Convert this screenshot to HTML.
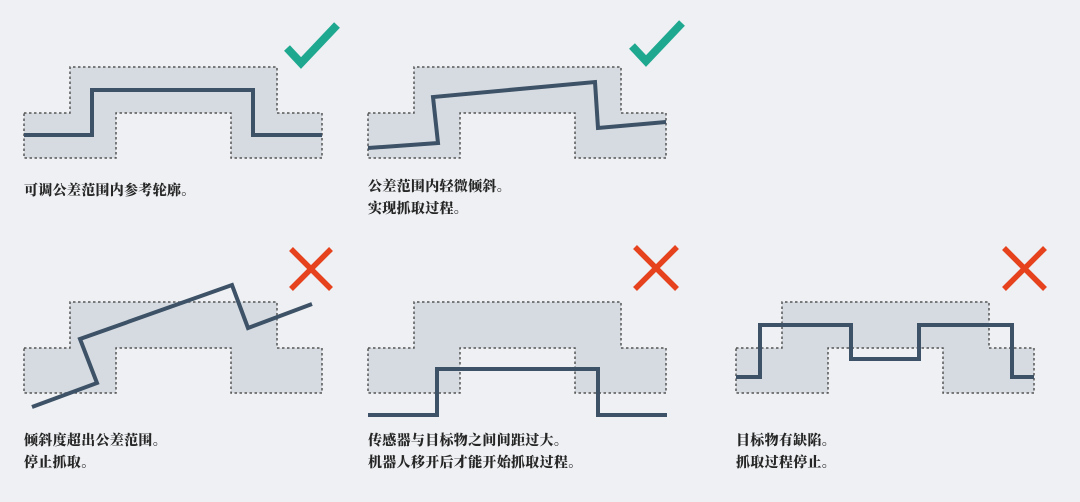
<!DOCTYPE html>
<html><head><meta charset="utf-8"><style>
body{margin:0;background:#eef0f3;width:1080px;height:502px;overflow:hidden;position:relative;font-family:"Liberation Serif","Noto Serif CJK SC",serif;}
.t{position:absolute;font-size:14px;font-weight:900;color:#262626;line-height:22px;letter-spacing:0.3px}
svg{position:absolute;left:0;top:0}
</style></head><body>
<svg width="1080" height="502">
<defs>
<g id="band">
<polygon points="0,46 46,46 46,0 253,0 253,46 298,46 298,91 207,91 207,46 92,46 92,91 0,91" fill="#d6dbe2" stroke="#555" stroke-width="1.5" stroke-dasharray="2.5 2.5"/>
</g>
</defs>
<use href="#band" x="24" y="67"/>
<use href="#band" x="368" y="67"/>
<use href="#band" x="24" y="302"/>
<use href="#band" x="368" y="302"/>
<use href="#band" x="736" y="302"/>
<g fill="none" stroke="#3d5266" stroke-width="4" stroke-linejoin="miter">
<polyline points="24,135 92,135 92,90 253,90 253,135 322,135"/>
<polyline points="368,148 438,143 433,97 595,82 598,128 666,122"/>
<polyline points="32,407 97,383 80,339 232,285 248,328 312,304"/>
<polyline points="368,415 437,415 437,369 598,369 598,415 667,415"/>
<polyline points="736,377 760,377 760,325 851,325 851,359 919,359 919,325 1012,325 1012,377 1034,377"/>
</g>
<g fill="none" stroke="#1ea890" stroke-width="8">
<polyline points="287,48 301,63 337,25"/>
<polyline points="632,46 646,61 682,23"/>
</g>
<g stroke="#e5421d" stroke-width="5.5">
<line x1="291" y1="249" x2="331" y2="289"/><line x1="331" y1="249" x2="291" y2="289"/>
<line x1="635" y1="247" x2="677" y2="289"/><line x1="677" y1="247" x2="635" y2="289"/>
<line x1="1004" y1="248" x2="1045" y2="289"/><line x1="1045" y1="248" x2="1004" y2="289"/>
</g>
</svg>
<div class="t" style="left:24px;top:181px">可调公差范围内参考轮廓。</div>
<div class="t" style="left:368px;top:177px">公差范围内轻微倾斜。<br>实现抓取过程。</div>
<div class="t" style="left:24px;top:431px">倾斜度超出公差范围。<br>停止抓取。</div>
<div class="t" style="left:368px;top:431px">传感器与目标物之间间距过大。<br>机器人移开后才能开始抓取过程。</div>
<div class="t" style="left:736px;top:431px">目标物有缺陷。<br>抓取过程停止。</div>
</body></html>
